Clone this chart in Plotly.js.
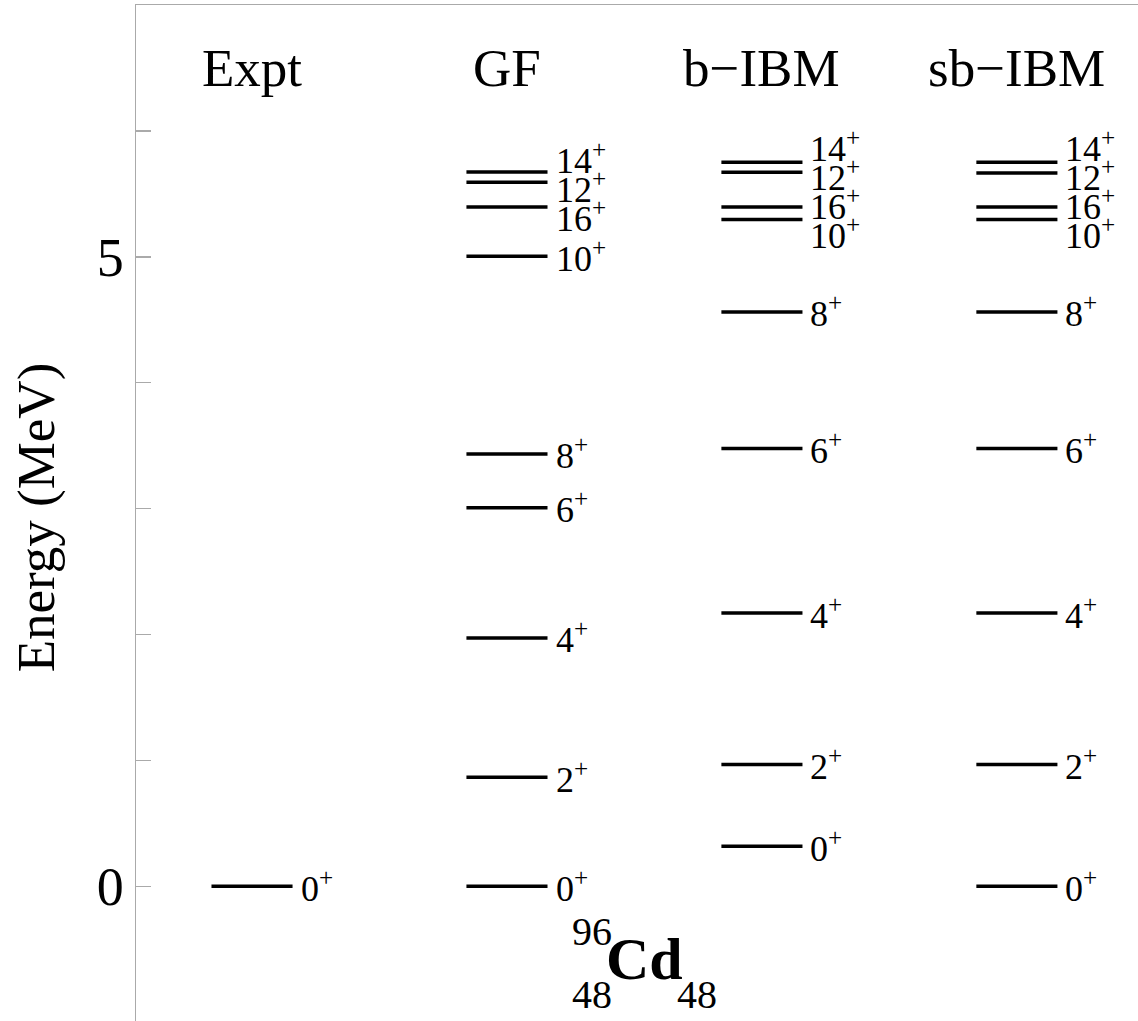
<!DOCTYPE html>
<html>
<head>
<meta charset="utf-8">
<script src="https://cdn.plot.ly/plotly-3.0.1.min.js"></script>
<style>
html, body { margin: 0; padding: 0; overflow: hidden; background: #fff; }
#chart { width: 1138px; height: 1030px; }
</style>
</head>
<body>
<div id="chart"></div>
<script>
// ---- data ----
const models = ['Expt', 'GF', 'b\u2212IBM', 'sb\u2212IBM'];

const exptSpins = ['0'];
const exptE = [0];

const gfSpins = ['0', '2', '4', '6', '8', '10', '16', '12', '14'];
const gfE = [0, 0.866, 1.973, 3.006, 3.434, 5.004, 5.396, 5.592, 5.674];

const bibmSpins = ['0', '2', '4', '6', '8', '10', '16', '12', '14'];
const bibmE = [0.318, 0.967, 2.171, 3.477, 4.562, 5.296, 5.396, 5.671, 5.751];

const sbibmSpins = ['0', '2', '4', '6', '8', '10', '16', '12', '14'];
const sbibmE = [0, 0.967, 2.171, 3.477, 4.562, 5.296, 5.396, 5.666, 5.751];

const yTickVals = [0, 1, 2, 3, 4, 5, 6];
const yTickText = ['0', '', '', '', '', '5', ''];

const nucleus = { mass: '96', Z: '48', symbol: 'Cd', N: '48' };

// ---- build ----
const columns = [
  { spins: exptSpins, E: exptE },
  { spins: gfSpins, E: gfE },
  { spins: bibmSpins, E: bibmE },
  { spins: sbibmSpins, E: sbibmE }
];

const HALF = 0.159;      // half width of a level line (x units)
const GAP = 0.23;        // minimum label spacing (MeV)
const serif = 'Liberation Serif, Times New Roman, serif';

// de-overlap labels: cluster adjacent labels, centre each cluster on its mean energy
function labelPositions(E) {
  const idx = E.map((e, i) => i).sort((a, b) => E[a] - E[b]);
  let groups = idx.map(i => ({ members: [i] }));
  const place = g => {
    const mean = g.members.reduce((s, i) => s + E[i], 0) / g.members.length;
    g.start = mean - GAP * (g.members.length - 1) / 2;
    g.end = g.start + GAP * (g.members.length - 1);
  };
  groups.forEach(place);
  let changed = true;
  while (changed) {
    changed = false;
    for (let k = 0; k < groups.length - 1; k++) {
      if (groups[k + 1].start - groups[k].end < GAP - 1e-9) {
        groups[k].members = groups[k].members.concat(groups[k + 1].members);
        groups.splice(k + 1, 1);
        place(groups[k]);
        changed = true;
        break;
      }
    }
  }
  const pos = new Array(E.length);
  groups.forEach(g => g.members.forEach((i, j) => { pos[i] = g.start + j * GAP; }));
  return pos;
}

const traces = [];
const annotations = [];

columns.forEach((col, c) => {
  const xs = [], ys = [];
  col.E.forEach(e => { xs.push(c - HALF, c + HALF, null); ys.push(e, e, null); });
  traces.push({
    type: 'scatter', mode: 'lines', x: xs, y: ys,
    line: { color: '#000', width: 3.5 },
    hoverinfo: 'skip', showlegend: false
  });
  const lp = labelPositions(col.E);
  col.spins.forEach((s, i) => {
    annotations.push({
      x: c + HALF, y: lp[i], xref: 'x', yref: 'y',
      text: s + '<sup>+</sup>', showarrow: false,
      xanchor: 'left', yanchor: 'middle', xshift: 6,
      font: { family: serif, size: 36, color: '#000' }
    });
  });
  annotations.push({
    x: c, y: 6.5, xref: 'x', yref: 'y', text: models[c], showarrow: false,
    xanchor: 'center', yanchor: 'middle',
    font: { family: serif, size: 53, color: '#000' }
  });
});

// nucleus label 96/48 Cd 48
const nucFont = { family: serif, size: 40, color: '#000' };
annotations.push({ x: 1.42, y: -0.36, xref: 'x', yref: 'y', text: nucleus.mass, showarrow: false, xanchor: 'right', yanchor: 'middle', font: nucFont });
annotations.push({ x: 1.42, y: -0.86, xref: 'x', yref: 'y', text: nucleus.Z, showarrow: false, xanchor: 'right', yanchor: 'middle', font: nucFont });
annotations.push({ x: 1.38, y: -0.58, xref: 'x', yref: 'y', text: '<b>' + nucleus.symbol + '</b>', showarrow: false, xanchor: 'left', yanchor: 'middle', font: { family: serif, size: 60, color: '#000' } });
annotations.push({ x: 1.66, y: -0.86, xref: 'x', yref: 'y', text: nucleus.N, showarrow: false, xanchor: 'left', yanchor: 'middle', font: nucFont });

const layout = {
  width: 1138, height: 1030,
  margin: { l: 136, r: 0, t: 5, b: 0, pad: 0 },
  paper_bgcolor: '#fff', plot_bgcolor: '#fff',
  showlegend: false,
  xaxis: {
    range: [-0.455, 3.475], side: 'top',
    showline: true, linecolor: '#aaaaaa', linewidth: 1.5,
    showgrid: false, zeroline: false, showticklabels: false, ticks: ''
  },
  yaxis: {
    range: [-1.141, 7.0],
    showline: true, linecolor: '#aaaaaa', linewidth: 1.5,
    showgrid: false, zeroline: false,
    tickmode: 'array', tickvals: yTickVals, ticktext: yTickText,
    ticks: 'inside', ticklen: 15, tickcolor: '#aaaaaa', tickwidth: 1.5,
    ticklabelstandoff: 0,
    tickfont: { family: serif, size: 54, color: '#000' },
    title: { text: 'Energy (MeV)', standoff: 25, font: { family: serif, size: 53, color: '#000' } }
  },
  annotations: annotations
};

Plotly.newPlot('chart', traces, layout, { displayModeBar: false, staticPlot: true });
</script>
</body>
</html>
